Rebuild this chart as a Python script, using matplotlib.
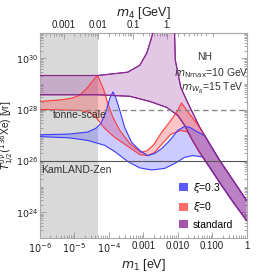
import numpy as np
import matplotlib.pyplot as plt
from matplotlib.patches import Patch
from matplotlib.ticker import LogLocator, NullFormatter

plt.rcParams['font.family'] = ['Liberation Sans', 'DejaVu Sans']
plt.rcParams['mathtext.fontset'] = 'dejavusans'

# log10 values (m1 in eV, T in yr)
std_up_m1 = [-6.00, -4.32, -3.45, -3.10, -2.90, -2.78, -2.72, -2.70, -2.10, -2.09, -2.07, -1.91, -1.74, -1.36, -0.78, 0.00]
std_up_T = [29.33, 29.33, 29.46, 29.73, 30.20, 30.71, 31.0, 31.6, 31.6, 31.0, 29.93, 28.87, 28.36, 27.31, 26.02, 24.46]
std_lo_m1 = [-6.00, -4.32, -3.39, -2.81, -2.32, -2.00, -1.80, -1.57, -1.36, -1.07, -0.72, -0.38, 0.00]
std_lo_T = [28.58, 28.58, 28.52, 28.32, 28.09, 27.78, 27.39, 26.80, 26.33, 25.75, 25.04, 24.38, 23.68]

red_up_m1 = [-6.00, -5.42, -5.10, -4.84, -4.61, -4.43, -4.33, -4.26, -4.14, -4.03, -3.88, -3.68, -3.39, -3.07,
             -2.87, -2.67, -2.49, -2.20, -2.00, -1.89, -1.65, -1.36, -0.78, 0.00]
red_up_T = [28.32, 28.38, 28.44, 28.56, 28.87, 29.18, 29.34, 29.14, 28.75, 28.25, 27.70, 27.19, 26.68, 26.33,
            26.41, 26.68, 27.07, 27.58, 27.97, 28.26, 27.82, 27.31, 26.02, 24.46]
red_lo_m1 = [-6.00, -4.84, -4.55, -4.35, -4.12, -3.83, -3.45, -3.10, -2.87, -2.67, -2.49, -2.20, -1.91, -1.71,
             -1.57, -1.36, -1.07, -0.72, -0.38, 0.00]
red_lo_T = [28.01, 27.97, 27.89, 27.66, 27.27, 26.92, 26.57, 26.25, 26.21, 26.33, 26.61, 27.04, 27.19, 27.13,
            26.80, 26.33, 25.75, 25.04, 24.38, 23.68]

blue_up_m1 = [-6.00, -5.13, -4.61, -4.38, -4.23, -4.09, -3.97, -3.88, -3.80, -3.68, -3.54, -3.34, -3.10, -2.87,
              -2.67, -2.46, -2.23, -2.00, -1.80, -1.65, -1.45, -1.22, -0.78, 0.00]
blue_up_T = [27.02, 27.05, 27.13, 27.27, 27.46, 27.89, 28.44, 28.69, 28.48, 27.97, 27.31, 26.73, 26.41, 26.21,
             26.29, 26.49, 26.80, 27.19, 27.35, 27.31, 27.15, 26.99, 26.02, 24.46]
blue_lo_m1 = [-6.00, -5.13, -4.61, -4.12, -3.83, -3.45, -3.10, -2.75, -2.38, -2.09, -1.80, -1.57, -1.28, -1.07,
              -0.72, -0.38, 0.00]
blue_lo_T = [26.95, 26.90, 26.80, 26.61, 26.37, 25.98, 25.73, 25.65, 25.71, 25.90, 26.14, 26.21, 26.16, 25.75,
             25.04, 24.38, 23.68]

x_ticks = [1e-6, 1e-5, 1e-4, 1e-3, 1e-2, 1e-1, 1]
x_labels = ['$10^{-6}$', '$10^{-5}$', '$10^{-4}$', '0.001', '0.010', '0.100', '1']
y_ticks = [1e24, 1e26, 1e28, 1e30]
y_labels = ['$10^{24}$', '$10^{26}$', '$10^{28}$', '$10^{30}$']
m4_ticks = [0.001, 0.01, 0.1, 1]
m4_labels = ['0.001', '0.01', '0.1', '1.']

excluded_m1 = 5e-5
tonne_scale = 1e28
kamland = 1e26


def band(ax, up_x, up_y, lo_x, lo_y, face, alpha, edge):
    ux, uy = 10 ** np.array(up_x), 10 ** np.array(up_y)
    lx, ly = 10 ** np.array(lo_x), 10 ** np.array(lo_y)
    ax.fill(np.r_[ux, lx[::-1]], np.r_[uy, ly[::-1]], color=face, alpha=alpha, lw=0, zorder=2)
    ax.plot(ux, uy, color=edge, lw=0.8, zorder=3)
    ax.plot(lx, ly, color=edge, lw=0.8, zorder=3)


fig = plt.figure(figsize=(2.66, 2.72), dpi=100)
ax = fig.add_axes([0.150, 0.125, 0.777, 0.755])
ax.set_xscale('log')
ax.set_yscale('log')
ax.set_xlim(1e-6, 1)
ax.set_ylim(1e23, 1e31)

ax.axvspan(1e-6, excluded_m1, color='#d9d9d9', lw=0, zorder=0)

band(ax, std_up_m1, std_up_T, std_lo_m1, std_lo_T, '#9a3aa0', 0.28, '#8a2a90')
band(ax, red_up_m1, red_up_T, red_lo_m1, red_lo_T, '#ff3030', 0.28, '#ff3a3a')
band(ax, blue_up_m1, blue_up_T, blue_lo_m1, blue_lo_T, '#3030ff', 0.25, '#3a3aff')
# redraw standard edges on top
ax.plot(10 ** np.array(std_up_m1), 10 ** np.array(std_up_T), color='#8a2a90', lw=0.8, zorder=4)
ax.plot(10 ** np.array(std_lo_m1), 10 ** np.array(std_lo_T), color='#8a2a90', lw=0.8, zorder=4)

ax.axhline(tonne_scale, color='#888888', lw=1.0, ls=(0, (4, 2.5)), zorder=5)
ax.axhline(kamland, color='#555555', lw=0.8, zorder=5)

ax.text(0.063, 0.599, 'tonne-scale', transform=ax.transAxes, fontsize=7.5, color='#333333', va='center', zorder=6)
ax.text(0.008, 0.331, 'KamLAND-Zen', transform=ax.transAxes, fontsize=7.5, color='#333333', va='center', zorder=6)
ax.text(0.799, 0.883, 'NH', transform=ax.transAxes, fontsize=7.5, color='#333333', ha='center', va='center')
ax.text(0.828, 0.805, r'$m_{\mathrm{Nmax}}$=10 GeV', transform=ax.transAxes, fontsize=7.5, color='#333333',
        ha='center', va='center')
ax.text(0.833, 0.729, r'$m_{W_R}$=15 TeV', transform=ax.transAxes, fontsize=7.5, color='#333333',
        ha='center', va='center')

ax.set_xticks(x_ticks, labels=x_labels)
ax.set_yticks(y_ticks, labels=y_labels)
ax.xaxis.set_minor_locator(LogLocator(base=10, subs=np.arange(2, 10), numticks=20))
ax.xaxis.set_minor_formatter(NullFormatter())
ax.yaxis.set_minor_locator(LogLocator(base=10, subs=np.arange(1, 10), numticks=20))
ax.yaxis.set_minor_formatter(NullFormatter())
ax.tick_params(which='both', direction='in', colors='#999999', labelcolor='#222222', labelsize=7, width=0.6,
               right=True, top=False, pad=2)
ax.tick_params(axis='y', pad=1, labelsize=6.8)
ax.tick_params(which='major', length=4)
ax.tick_params(which='minor', length=2)
for s in ax.spines.values():
    s.set_color('#aaaaaa')
    s.set_linewidth(0.8)


def fwd(m1):
    m1 = np.clip(np.asarray(m1, float), 1e-30, None)
    return 10 * m1 / np.sqrt(m1 ** 2 + 2.5e-3)


def inv(m4):
    m4 = np.clip(np.asarray(m4, float), 1e-30, 9.99999)
    return 0.05 * m4 / np.sqrt(100 - m4 ** 2)


sec = ax.secondary_xaxis('top', functions=(fwd, inv))
sec.set_xticks(m4_ticks, labels=m4_labels)
sec.xaxis.set_minor_locator(LogLocator(base=10, subs=np.arange(2, 10), numticks=20))
sec.xaxis.set_minor_formatter(NullFormatter())
sec.tick_params(which='both', direction='in', colors='#999999', labelcolor='#222222', labelsize=7, width=0.6, pad=2)
sec.tick_params(which='major', length=4)
sec.tick_params(which='minor', length=2)
sec.spines['top'].set_color('#aaaaaa')
sec.set_xlabel('$m_4$ [GeV]', fontsize=9, color='#222222', labelpad=3)

ax.set_xlabel('$m_1$ [eV]', fontsize=9, color='#222222', labelpad=2)
ax.set_ylabel(r'$T^{0\nu}_{1/2}(^{136}$Xe) [yr]', fontsize=7.3, color='#222222')
ax.yaxis.set_label_coords(-0.112, 0.5)

handles = [Patch(facecolor='#5a5aff', edgecolor='none'),
           Patch(facecolor='#ff6a6a', edgecolor='none'),
           Patch(facecolor='#a457aa', edgecolor='none')]
ax.legend(handles, [r'$\xi$=0.3', r'$\xi$=0', 'standard'], loc='upper left', bbox_to_anchor=(0.64, 0.315),
          frameon=False, fontsize=7.5, handlelength=0.8, handleheight=0.8, handletextpad=0.5,
          labelspacing=0.55, borderpad=0.2)

fig.savefig('out.png', dpi=100)
